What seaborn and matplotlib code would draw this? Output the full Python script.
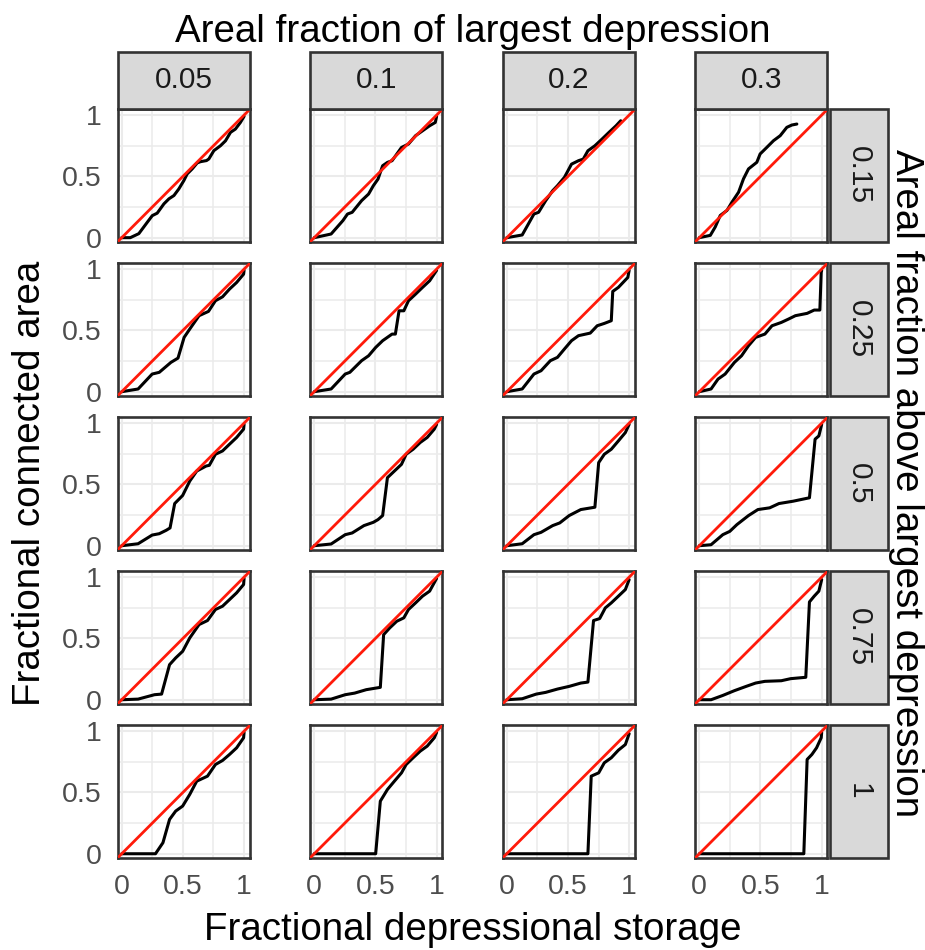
import numpy as np
import pandas as pd
import seaborn as sns
import matplotlib.pyplot as plt
from matplotlib.patches import Rectangle

# facet levels
col_levels = ["0.05", "0.1", "0.2", "0.3"]          # areal fraction of largest depression
row_levels = ["0.15", "0.25", "0.5", "0.75", "1"]   # areal fraction above largest depression

# curves (storage x, connected area y)
# row 0.15
x_r015_c005 = [0, 0.07, 0.14, 0.21, 0.25, 0.29, 0.345, 0.386, 0.427, 0.467, 0.508, 0.535, 0.576, 0.617, 0.644, 0.693, 0.712, 0.753, 0.807, 0.848, 0.889, 0.929, 0.97, 1.0]
y_r015_c005 = [0, 0.0, 0.033, 0.127, 0.18, 0.20, 0.276, 0.317, 0.344, 0.398, 0.466, 0.52, 0.561, 0.61, 0.62, 0.629, 0.642, 0.71, 0.75, 0.79, 0.859, 0.886, 0.94, 0.99]
x_r015_c01 = [0, 0.138, 0.234, 0.272, 0.31, 0.387, 0.444, 0.483, 0.521, 0.559, 0.598, 0.636, 0.713, 0.77, 0.828, 0.885, 0.943, 0.989, 1.0]
y_r015_c01 = [0, 0.03, 0.139, 0.193, 0.207, 0.302, 0.356, 0.424, 0.478, 0.587, 0.614, 0.628, 0.736, 0.764, 0.832, 0.872, 0.913, 0.94, 0.99]
x_r015_c02 = [0, 0.126, 0.222, 0.26, 0.318, 0.375, 0.414, 0.471, 0.529, 0.586, 0.625, 0.663, 0.72, 0.778, 0.835, 0.893, 0.931]
y_r015_c02 = [0, 0.022, 0.193, 0.207, 0.302, 0.383, 0.424, 0.492, 0.60, 0.628, 0.641, 0.709, 0.75, 0.804, 0.859, 0.913, 0.954]
x_r015_c03 = [0, 0.09, 0.13, 0.171, 0.226, 0.267, 0.321, 0.361, 0.402, 0.47, 0.497, 0.552, 0.606, 0.661, 0.715, 0.756, 0.797]
y_r015_c03 = [0, 0.019, 0.087, 0.181, 0.222, 0.29, 0.371, 0.48, 0.561, 0.615, 0.683, 0.737, 0.791, 0.832, 0.90, 0.919, 0.927]
# row 0.25
x_r025_c005 = [0, 0.134, 0.249, 0.307, 0.402, 0.46, 0.51, 0.556, 0.632, 0.709, 0.766, 0.824, 0.881, 0.939, 0.996, 1.0]
y_r025_c005 = [0, 0.022, 0.144, 0.158, 0.239, 0.274, 0.443, 0.511, 0.62, 0.655, 0.742, 0.774, 0.837, 0.891, 0.959, 0.99]
x_r025_c01 = [0, 0.138, 0.253, 0.291, 0.387, 0.444, 0.502, 0.559, 0.636, 0.663, 0.693, 0.732, 0.77, 0.828, 0.885, 0.943, 1.0]
y_r025_c01 = [0, 0.022, 0.144, 0.158, 0.253, 0.293, 0.361, 0.416, 0.47, 0.47, 0.66, 0.66, 0.742, 0.796, 0.851, 0.905, 0.99]
x_r025_c02 = [0, 0.126, 0.222, 0.28, 0.356, 0.414, 0.471, 0.529, 0.586, 0.682, 0.739, 0.797, 0.854, 0.866, 0.912, 0.95, 0.989, 1.0]
y_r025_c02 = [0, 0.022, 0.144, 0.171, 0.253, 0.28, 0.348, 0.416, 0.457, 0.478, 0.538, 0.557, 0.579, 0.818, 0.851, 0.891, 0.932, 0.99]
x_r025_c03 = [0, 0.096, 0.153, 0.211, 0.287, 0.345, 0.402, 0.46, 0.536, 0.594, 0.67, 0.728, 0.785, 0.881, 0.939, 0.985, 0.996, 1.0]
y_r025_c03 = [0, 0.022, 0.103, 0.144, 0.239, 0.293, 0.375, 0.443, 0.47, 0.538, 0.565, 0.592, 0.62, 0.639, 0.666, 0.666, 0.973, 0.99]
# row 0.5
x_r05_c005 = [0, 0.134, 0.249, 0.307, 0.364, 0.395, 0.433, 0.498, 0.556, 0.613, 0.69, 0.716, 0.766, 0.824, 0.881, 0.939, 0.996, 1.0]
y_r05_c005 = [0, 0.016, 0.087, 0.098, 0.126, 0.145, 0.344, 0.41, 0.527, 0.609, 0.65, 0.656, 0.746, 0.773, 0.828, 0.883, 0.951, 0.99]
x_r05_c01 = [0, 0.138, 0.253, 0.31, 0.406, 0.483, 0.521, 0.559, 0.598, 0.655, 0.713, 0.751, 0.808, 0.866, 0.923, 0.981, 1.0]
y_r05_c01 = [0, 0.014, 0.09, 0.104, 0.164, 0.191, 0.213, 0.246, 0.555, 0.609, 0.664, 0.746, 0.787, 0.842, 0.883, 0.951, 0.99]
x_r05_c02 = [0, 0.126, 0.222, 0.28, 0.375, 0.433, 0.51, 0.605, 0.72, 0.751, 0.797, 0.854, 0.912, 0.969, 1.0]
y_r05_c02 = [0, 0.016, 0.09, 0.109, 0.164, 0.186, 0.246, 0.295, 0.314, 0.678, 0.746, 0.787, 0.855, 0.923, 0.99]
x_r05_c03 = [0, 0.096, 0.192, 0.249, 0.307, 0.402, 0.479, 0.575, 0.651, 0.766, 0.90, 0.946, 0.977, 1.0]
y_r05_c03 = [0, 0.008, 0.09, 0.117, 0.172, 0.246, 0.295, 0.309, 0.344, 0.363, 0.391, 0.869, 0.896, 0.99]
# row 0.75
x_r075_c005 = [0, 0.134, 0.268, 0.326, 0.391, 0.441, 0.498, 0.556, 0.632, 0.701, 0.766, 0.824, 0.881, 0.939, 0.996, 1.0]
y_r075_c005 = [0, 0.005, 0.041, 0.046, 0.286, 0.341, 0.395, 0.504, 0.613, 0.646, 0.736, 0.763, 0.817, 0.872, 0.94, 0.99]
x_r075_c01 = [0, 0.138, 0.253, 0.33, 0.425, 0.54, 0.567, 0.617, 0.674, 0.732, 0.77, 0.828, 0.885, 0.943, 1.0]
y_r075_c01 = [0, 0.005, 0.041, 0.054, 0.082, 0.101, 0.531, 0.586, 0.64, 0.668, 0.736, 0.79, 0.845, 0.886, 0.99]
x_r075_c02 = [0, 0.126, 0.241, 0.318, 0.414, 0.51, 0.605, 0.663, 0.709, 0.759, 0.805, 0.854, 0.912, 0.969, 1.0]
y_r075_c02 = [0, 0.008, 0.046, 0.06, 0.087, 0.109, 0.136, 0.144, 0.646, 0.662, 0.749, 0.79, 0.845, 0.899, 0.98]
x_r075_c03 = [0, 0.096, 0.192, 0.287, 0.383, 0.46, 0.536, 0.67, 0.747, 0.87, 0.90, 0.939, 0.977, 1.0]
y_r075_c03 = [0, 0.0, 0.035, 0.074, 0.109, 0.136, 0.15, 0.155, 0.172, 0.183, 0.798, 0.845, 0.886, 0.98]
# row 1
x_r1_c005 = [0, 0.276, 0.337, 0.391, 0.441, 0.498, 0.556, 0.613, 0.701, 0.766, 0.824, 0.881, 0.939, 0.996, 1.0]
y_r1_c005 = [0, 0.0, 0.09, 0.28, 0.348, 0.389, 0.484, 0.592, 0.633, 0.728, 0.761, 0.81, 0.864, 0.946, 0.99]
x_r1_c01 = [0, 0.502, 0.54, 0.598, 0.655, 0.713, 0.751, 0.808, 0.866, 0.923, 0.981, 1.0]
y_r1_c01 = [0, 0.0, 0.429, 0.524, 0.592, 0.66, 0.728, 0.783, 0.837, 0.878, 0.946, 0.99]
x_r1_c02 = [0, 0.663, 0.69, 0.751, 0.797, 0.854, 0.912, 0.969, 1.0]
y_r1_c02 = [0, 0.0, 0.633, 0.66, 0.742, 0.783, 0.845, 0.891, 0.98]
x_r1_c03 = [0, 0.854, 0.881, 0.92, 0.958, 0.996, 1.0]
y_r1_c03 = [0, 0.0, 0.769, 0.81, 0.864, 0.946, 0.99]

panels = {
    ("0.15", "0.05"): (x_r015_c005, y_r015_c005), ("0.15", "0.1"): (x_r015_c01, y_r015_c01),
    ("0.15", "0.2"): (x_r015_c02, y_r015_c02), ("0.15", "0.3"): (x_r015_c03, y_r015_c03),
    ("0.25", "0.05"): (x_r025_c005, y_r025_c005), ("0.25", "0.1"): (x_r025_c01, y_r025_c01),
    ("0.25", "0.2"): (x_r025_c02, y_r025_c02), ("0.25", "0.3"): (x_r025_c03, y_r025_c03),
    ("0.5", "0.05"): (x_r05_c005, y_r05_c005), ("0.5", "0.1"): (x_r05_c01, y_r05_c01),
    ("0.5", "0.2"): (x_r05_c02, y_r05_c02), ("0.5", "0.3"): (x_r05_c03, y_r05_c03),
    ("0.75", "0.05"): (x_r075_c005, y_r075_c005), ("0.75", "0.1"): (x_r075_c01, y_r075_c01),
    ("0.75", "0.2"): (x_r075_c02, y_r075_c02), ("0.75", "0.3"): (x_r075_c03, y_r075_c03),
    ("1", "0.05"): (x_r1_c005, y_r1_c005), ("1", "0.1"): (x_r1_c01, y_r1_c01),
    ("1", "0.2"): (x_r1_c02, y_r1_c02), ("1", "0.3"): (x_r1_c03, y_r1_c03),
}

frames = []
for (r, c), (xs, ys) in panels.items():
    frames.append(pd.DataFrame({"storage": xs, "connected": ys, "above": r, "largest": c}))
df = pd.concat(frames, ignore_index=True)

sns.set_theme(style="white")
plt.rcParams['font.family'] = ['Liberation Sans', 'DejaVu Sans']

g = sns.relplot(data=df, x="storage", y="connected", row="above", col="largest",
                row_order=row_levels, col_order=col_levels, kind="line", sort=False,
                estimator=None, color="black", linewidth=2.2, height=1.9, aspect=1,
                facet_kws=dict(sharex=True, sharey=True, despine=False))
fig = g.figure
fig.set_size_inches(9.25, 9.5)
fig.subplots_adjust(left=0.1272, right=0.8944, top=0.8853, bottom=0.0968,
                    wspace=0.458, hspace=0.158)
g.set_titles("")
g.set_axis_labels("", "")

edge = "#333333"
for i, r in enumerate(row_levels):
    for j, c in enumerate(col_levels):
        ax = g.axes[i, j]
        ax.set_xlim(-0.033, 1.046)
        ax.set_ylim(-0.035, 1.05)
        ax.axline((0, 0), slope=1, color="#FF1A0A", lw=2.0, zorder=3)
        ax.set_xticks([0, 0.5, 1])
        ax.set_yticks([0, 0.5, 1])
        ax.set_xticks([0.25, 0.75], minor=True)
        ax.set_yticks([0.25, 0.75], minor=True)
        ax.grid(True, which="major", color="#EBEBEB", lw=1.5)
        ax.grid(True, which="minor", color="#EBEBEB", lw=1.1)
        ax.set_axisbelow(True)
        ax.tick_params(which="minor", length=0)
        ax.tick_params(which="major", length=6.8, width=1.5, color=edge,
                       labelsize=20.5, labelcolor="#4D4D4D", pad=5)
        for s in ax.spines.values():
            s.set_visible(True)
            s.set_color(edge)
            s.set_linewidth(1.9)
        ax.set_xticklabels(["0", "0.5", "1"])
        ax.set_yticklabels(["0", "0.5", "1"])
        if i != len(row_levels) - 1:
            ax.tick_params(axis="x", length=0, labelbottom=False)
        if j != 0:
            ax.tick_params(axis="y", length=0, labelleft=False)

# strips
W, H = 925.0, 950.0
for j, c in enumerate(col_levels):
    pos = g.axes[0, j].get_position()
    y0 = pos.y1
    hgt = 57 / H
    fig.patches.append(Rectangle((pos.x0, y0), pos.width, hgt, transform=fig.transFigure,
                                 facecolor="#D9D9D9", edgecolor=edge, lw=1.9, zorder=1))
    fig.text(pos.x0 + pos.width / 2, y0 + hgt / 2, c, ha="center", va="center",
             fontsize=21.5, color="#1A1A1A")
for i, r in enumerate(row_levels):
    pos = g.axes[i, -1].get_position()
    x0 = pos.x1 + 2.5 / W
    wid = 58 / W
    fig.patches.append(Rectangle((x0, pos.y0), wid, pos.height, transform=fig.transFigure,
                                 facecolor="#D9D9D9", edgecolor=edge, lw=1.9, zorder=1))
    fig.text(x0 + wid / 2, pos.y0 + pos.height / 2, r, ha="center", va="center",
             rotation=-90, fontsize=21.5, color="#1A1A1A")

# axis titles
mid_y = 1 - 483.5 / H
fig.text(473 / W, 1 - 42 / H, "Areal fraction of largest depression", ha="center",
         va="baseline", fontsize=27.7, color="black")
fig.text(473 / W, 1 - 940 / H, "Fractional depressional storage", ha="center",
         va="baseline", fontsize=27.7, color="black")
fig.text(30 / W, mid_y, "Fractional connected area", ha="center", va="center",
         rotation=90, fontsize=27.7, color="black")
fig.text(906 / W, mid_y, "Areal fraction above largest depression", ha="center",
         va="center", rotation=-90, fontsize=27.7, color="black")

fig.savefig("out.png", dpi=100)
